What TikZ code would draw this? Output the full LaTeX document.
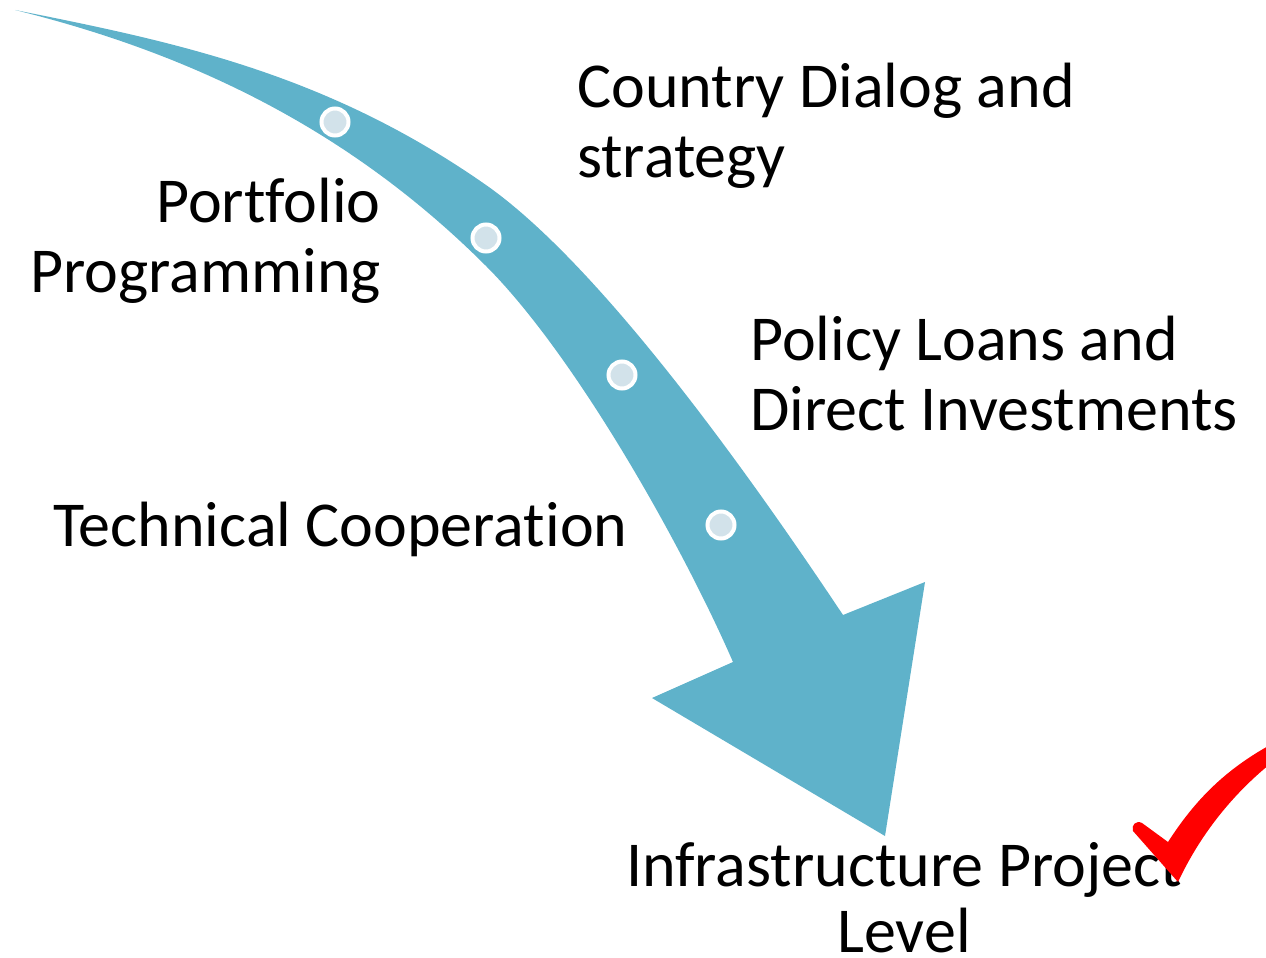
\documentclass[tikz,border=0pt]{standalone}
\usepackage{fontspec}
\setmainfont{Carlito}[Ligatures=NoCommon]
\definecolor{band}{RGB}{95,178,202}
\definecolor{dotfill}{RGB}{210,226,234}
\definecolor{tick}{RGB}{255,0,0}
\begin{document}
\begin{tikzpicture}[x=1pt,y=-1pt,
  label/.style={inner sep=0pt, font=\fontsize{64}{71}\selectfont},
  stepdot/.style={circle, fill=dotfill, draw=white, line width=4pt, minimum size=27pt, inner sep=0pt}]
\useasboundingbox (0,0) rectangle (1266,958);

% curved arrow body and head
\fill[band]
  (15,10) .. controls (175,42) and (326,73) .. (486,185)
          .. controls (606,269) and (763,495) .. (843,615)
  -- (925,582) -- (885,836) -- (652,698) -- (733,662)
          .. controls (683,547) and (576,356) .. (486,266)
          .. controls (346,126) and (185,52) .. (15,10)
  -- cycle;

% milestones along the arrow
\node[stepdot] (d1) at (335,122) {};
\node[stepdot] (d2) at (486,238) {};
\node[stepdot] (d3) at (622,375) {};
\node[stepdot] (d4) at (721,525) {};

% stage labels
\node[label, anchor=base west] (c1) at (577,107) {Country Dialog and};
\node[label, anchor=base west] (c2) at (577,177) {strategy};
\node[label, anchor=base east] (p1) at (381,222) {Portfolio};
\node[label, anchor=base east] (p2) at (381,292) {Programming};
\node[label, anchor=base west] (l1) at (750,360) {Policy Loans and};
\node[label, anchor=base west] (l2) at (750,430) {Direct Investments};
\node[label, anchor=base west] (t1) at (53,546) {Technical Cooperation};
\node[label, anchor=base] (i1) at (904,886) {Infrastructure Project};
\node[label, anchor=base] (i2) at (904,952) {Level};

% check mark
\begin{scope}
\clip (0,0) rectangle (1266,958);
\fill[tick]
  (1133,831) .. controls (1131,825) and (1136,820) .. (1142,823)
  -- (1168,842)
  .. controls (1195,800) and (1225,770) .. (1270,745)
  -- (1270,764)
  .. controls (1232,795) and (1200,835) .. (1178,882)
  -- cycle;
\end{scope}
\end{tikzpicture}
\end{document}
